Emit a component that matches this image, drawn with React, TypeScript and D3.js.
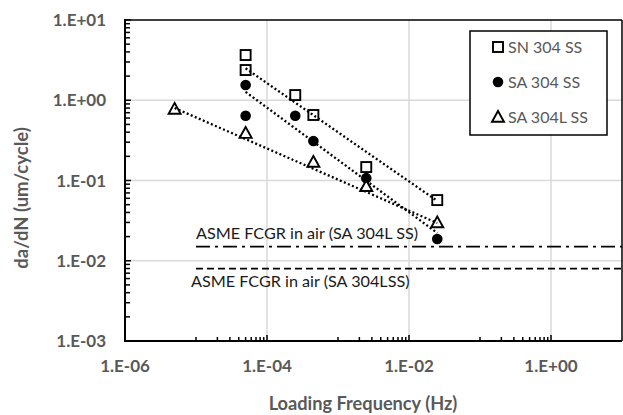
import React from "react";
import * as d3 from "d3";

// ---- data ----
const snX = [5e-5, 5e-5, 2.5e-4, 4.5e-4, 2.5e-3, 2.5e-2];
const snY = [3.66, 2.38, 1.16, 0.655, 0.147, 0.057];
const saX = [5e-5, 5e-5, 2.5e-4, 4.5e-4, 2.5e-3, 2.5e-2];
const saY = [1.55, 0.64, 0.64, 0.31, 0.107, 0.0187];
const salX = [5e-6, 5e-5, 4.5e-4, 2.5e-3, 2.5e-2];
const salY = [0.78, 0.39, 0.17, 0.085, 0.03];

// trend line end points (data units)
const snTrendX = [5e-5, 2.5e-2];
const snTrendY = [2.5, 0.0556];
const saTrendX = [5e-5, 2.5e-2];
const saTrendY = [1.27, 0.0222];
const salTrendX = [5e-6, 2.5e-2];
const salTrendY = [0.8, 0.0295];

const refDashDotY = 0.015;
const refDashY = 0.008;
const refStartX = 1e-5;
const refLabel1 = "ASME FCGR in air (SA 304L SS)";
const refLabel2 = "ASME FCGR in air (SA 304LSS)";

const xTicks = [1e-6, 1e-4, 1e-2, 1e0];
const xTickLabels = ["1.E-06", "1.E-04", "1.E-02", "1.E+00"];
const yTicks = [1e-3, 1e-2, 1e-1, 1e0, 1e1];
const yTickLabels = ["1.E-03", "1.E-02", "1.E-01", "1.E+00", "1.E+01"];
const xMinorExps = [-5, -3, -1];
const mantissas = [1, 2, 3, 4, 5, 6, 7, 8, 9];
const yMinorExps = [-3, -2, -1, 0];

const legendNames = ["SN 304 SS", "SA 304 SS", "SA 304L SS"];

const W = 623;
const H = 415;
const L = 125, R = 622, T = 20, B = 341;

const x = d3.scaleLog().domain([1e-6, 1e1]).range([L, R]);
const y = d3.scaleLog().domain([1e-3, 1e1]).range([B, T]);

const FONT = "Lato, 'Open Sans', sans-serif";
const GRAY = "#595959";

function Square({ cx, cy }: { cx: number; cy: number }) {
  return <rect x={cx - 5} y={cy - 5} width={10} height={10} fill="#fff" stroke="#000" strokeWidth={1.9} />;
}
function Dot({ cx, cy }: { cx: number; cy: number }) {
  return <circle cx={cx} cy={cy} r={5.3} fill="#000" />;
}
function Tri({ cx, cy }: { cx: number; cy: number }) {
  const p = `${cx},${cy - 6} ${cx + 6},${cy + 4.8} ${cx - 6},${cy + 4.8}`;
  return <polygon points={p} fill="#fff" stroke="#000" strokeWidth={1.9} strokeLinejoin="miter" />;
}

export default function App() {
  const line = d3.line<[number, number]>().x((d) => x(d[0])).y((d) => y(d[1]));
  const trend = (xs: number[], ys: number[]) => line(xs.map((v, i) => [v, ys[i]] as [number, number])) || "";

  const xMinor: number[] = [];
  xMinorExps.forEach((e) => mantissas.forEach((m) => xMinor.push(m * Math.pow(10, e))));
  const yMinor: number[] = [];
  yMinorExps.forEach((e) => mantissas.slice(1).forEach((m) => yMinor.push(m * Math.pow(10, e))));

  return (
    <svg width={W} height={H} style={{ position: "absolute", left: 0, top: 0, background: "#fff" }}>
      {/* gridlines */}
      {xTicks.slice(1).map((t, i) => (
        <line key={"gx" + i} x1={x(t)} x2={x(t)} y1={T} y2={B} stroke="#d9d9d9" strokeWidth={1.5} />
      ))}
      {yTicks.slice(1, -1).map((t, i) => (
        <line key={"gy" + i} x1={L} x2={R} y1={y(t)} y2={y(t)} stroke="#d9d9d9" strokeWidth={1.5} />
      ))}

      {/* reference lines */}
      <line x1={x(refStartX)} x2={R} y1={y(refDashDotY)} y2={y(refDashDotY)} stroke="#000" strokeWidth={1.7} strokeDasharray="14,5,3,5" />
      <line x1={x(refStartX)} x2={R} y1={y(refDashY)} y2={y(refDashY)} stroke="#000" strokeWidth={1.7} strokeDasharray="7,4" />
      <text x={x(refStartX)} y={y(refDashDotY) - 8} fontFamily={FONT} fontSize={16.2} fill="#1a1a1a">{refLabel1}</text>
      <text x={x(refStartX) - 5} y={y(refDashY) + 18} fontFamily={FONT} fontSize={16.2} fill="#1a1a1a">{refLabel2}</text>

      {/* markers */}
      {snX.map((v, i) => <Square key={"s" + i} cx={x(v)} cy={y(snY[i])} />)}
      {saX.map((v, i) => <Dot key={"c" + i} cx={x(v)} cy={y(saY[i])} />)}
      {salX.map((v, i) => <Tri key={"t" + i} cx={x(v)} cy={y(salY[i])} />)}

      {/* trend lines */}
      {[trend(snTrendX, snTrendY), trend(saTrendX, saTrendY), trend(salTrendX, salTrendY)].map((d, i) => (
        <path key={"tr" + i} d={d} fill="none" stroke="#000" strokeWidth={2.3} strokeDasharray="2,2.4" />
      ))}

      {/* axes frame */}
      <line x1={L} x2={R} y1={T} y2={T} stroke="#000" strokeWidth={1.5} />
      <line x1={R} x2={R} y1={T} y2={B} stroke="#000" strokeWidth={1.5} />
      <line x1={L} x2={L} y1={T - 1} y2={B + 1} stroke="#000" strokeWidth={2} />
      <line x1={L} x2={R} y1={B} y2={B} stroke="#000" strokeWidth={2} />

      {/* minor ticks */}
      {yMinor.map((t, i) => (
        <line key={"ym" + i} x1={L} x2={L + 5} y1={y(t)} y2={y(t)} stroke="#000" strokeWidth={1.5} />
      ))}
      {yTicks.map((t, i) => (
        <line key={"yM" + i} x1={L} x2={L + 6} y1={y(t)} y2={y(t)} stroke="#000" strokeWidth={1.5} />
      ))}
      {xMinor.map((t, i) => (
        <line key={"xm" + i} x1={x(t)} x2={x(t)} y1={B} y2={B - 4} stroke="#000" strokeWidth={1.5} />
      ))}
      {xTicks.slice(1).map((t, i) => (
        <line key={"xM" + i} x1={x(t)} x2={x(t)} y1={B} y2={B - 6} stroke="#000" strokeWidth={1.5} />
      ))}

      {/* tick labels */}
      {yTicks.map((t, i) => (
        <text key={"yl" + i} x={106} y={y(t)} dy="0.36em" textAnchor="end" fontFamily={FONT} fontWeight="bold" fontSize={17} fill={GRAY}>
          {yTickLabels[i]}
        </text>
      ))}
      {xTicks.map((t, i) => (
        <text key={"xl" + i} x={x(t)} y={372} textAnchor="middle" fontFamily={FONT} fontWeight="bold" fontSize={17} fill={GRAY}>
          {xTickLabels[i]}
        </text>
      ))}

      {/* axis titles */}
      <text x={363} y={410} textAnchor="middle" fontFamily={FONT} fontWeight="bold" fontSize={18.2} fill={GRAY}>
        Loading Frequency (Hz)
      </text>
      <text transform="translate(28,198) rotate(-90)" textAnchor="middle" fontFamily={FONT} fontWeight="bold" fontSize={18.5} fill={GRAY}>
        da/dN (um/cycle)
      </text>

      {/* legend */}
      <rect x={470} y={31} width={137} height={104} fill="#fff" stroke="#000" strokeWidth={1.5} />
      {legendNames.map((n, i) => {
        const ly = 47 + i * 35;
        return (
          <g key={"lg" + i}>
            {i === 0 && <Square cx={498} cy={ly} />}
            {i === 1 && <Dot cx={498} cy={ly} />}
            {i === 2 && <Tri cx={498} cy={ly} />}
            <text x={508} y={ly} dy="0.36em" fontFamily={FONT} fontSize={16} fill={GRAY}>{n}</text>
          </g>
        );
      })}
    </svg>
  );
}
